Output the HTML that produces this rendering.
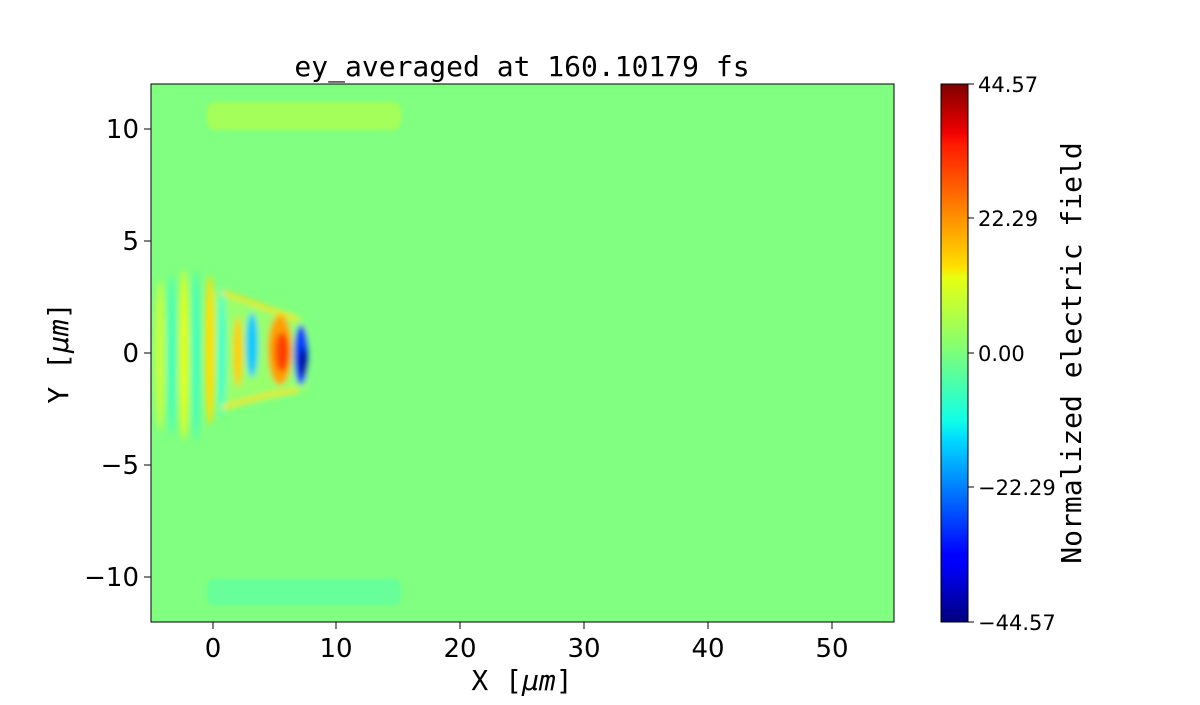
<!DOCTYPE html>
<html><head><style>
body{margin:0;background:#fff;}
svg text{font-family:"DejaVu Sans","Liberation Sans",sans-serif;fill:#000}
.m{font-family:"DejaVu Sans Mono","Liberation Mono",monospace}
</style></head><body>
<svg width="1200" height="700" xmlns="http://www.w3.org/2000/svg">
<defs>
<linearGradient id="jet" x1="0" y1="1" x2="0" y2="0">
<stop offset="0" stop-color="#000080"/><stop offset="0.11" stop-color="#0000ff"/>
<stop offset="0.125" stop-color="#0000ff"/><stop offset="0.34" stop-color="#00dbff"/>
<stop offset="0.375" stop-color="#10ffe7"/><stop offset="0.5" stop-color="#7bff7b"/>
<stop offset="0.64" stop-color="#e7ff10"/><stop offset="0.66" stop-color="#ffe000"/>
<stop offset="0.89" stop-color="#ff1800"/><stop offset="0.91" stop-color="#f00000"/>
<stop offset="1" stop-color="#800000"/></linearGradient>
<filter id="b1"><feGaussianBlur stdDeviation="1.5"/></filter>
<filter id="b2"><feGaussianBlur stdDeviation="3"/></filter>
<clipPath id="c"><rect x="151" y="84" width="743" height="538"/></clipPath>
</defs>
<rect x="151" y="84" width="743" height="538" fill="#80ff80"/>
<g clip-path="url(#c)">
<rect x="207" y="102" width="194" height="28" rx="8" fill="#a4ff5a" filter="url(#b1)"/>
<rect x="207" y="579" width="194" height="26" rx="8" fill="#66ff99" filter="url(#b1)"/>
<g filter="url(#b2)">
<path d="M215 290 L300 315 L308 330 L308 390 L290 395 L220 412 Z" fill="#a8ff60" opacity="0.6"/>
<ellipse cx="160" cy="355" rx="5" ry="75" fill="#c8ff40"/>
<ellipse cx="172" cy="355" rx="4" ry="80" fill="#40ffc0"/>
<ellipse cx="184" cy="355" rx="5" ry="85" fill="#e0ff20"/>
<ellipse cx="196" cy="355" rx="4" ry="85" fill="#40ffc0"/>
<ellipse cx="210" cy="350" rx="5" ry="75" fill="#ffe000"/>
<ellipse cx="222" cy="352" rx="4" ry="65" fill="#40ffd0"/>
<ellipse cx="238" cy="352" rx="5" ry="35" fill="#ffd000"/>
<ellipse cx="252" cy="345" rx="6" ry="32" fill="#00c8ff"/>
<ellipse cx="280" cy="350" rx="12" ry="35" fill="#ffa000"/>
<ellipse cx="282" cy="352" rx="7" ry="20" fill="#ff4000"/>
<ellipse cx="301" cy="355" rx="7" ry="30" fill="#0040ff"/>
<ellipse cx="303" cy="362" rx="4" ry="14" fill="#0000a0"/>
<path d="M222 292 Q260 305 298 320" stroke="#ffe000" stroke-width="4" fill="none"/>
<path d="M222 408 Q260 395 298 390" stroke="#ffe000" stroke-width="4" fill="none"/>
</g>
</g>
<rect x="151" y="84" width="743" height="538" fill="none" stroke="#000" stroke-width="1"/>
<g stroke="#000">
<line x1="213" y1="622" x2="213" y2="629"/><line x1="336" y1="622" x2="336" y2="629"/>
<line x1="460" y1="622" x2="460" y2="629"/><line x1="584" y1="622" x2="584" y2="629"/>
<line x1="708" y1="622" x2="708" y2="629"/><line x1="832" y1="622" x2="832" y2="629"/>
<line x1="144" y1="129" x2="151" y2="129"/><line x1="144" y1="241" x2="151" y2="241"/>
<line x1="144" y1="353" x2="151" y2="353"/><line x1="144" y1="465" x2="151" y2="465"/>
<line x1="144" y1="577" x2="151" y2="577"/>
</g>
<g font-size="26" text-anchor="middle">
<text x="213" y="657">0</text><text x="336" y="657">10</text><text x="460" y="657">20</text>
<text x="584" y="657">30</text><text x="708" y="657">40</text><text x="832" y="657">50</text>
</g>
<g font-size="26" text-anchor="end">
<text x="139" y="138">10</text><text x="139" y="250">5</text><text x="139" y="362">0</text>
<text x="139" y="474">−5</text><text x="139" y="586">−10</text>
</g>
<text class="m" x="522" y="690" font-size="28" text-anchor="middle">X [<tspan font-style="italic">μm</tspan>]</text>
<text class="m" transform="translate(68,353) rotate(-90)" font-size="28" text-anchor="middle">Y [<tspan font-style="italic">μm</tspan>]</text>
<text class="m" x="522" y="76" font-size="28" text-anchor="middle">ey_averaged at 160.10179 fs</text>
<rect x="941" y="84" width="27" height="538" fill="url(#jet)" stroke="#000"/>
<g stroke="#000">
<line x1="968" y1="84" x2="974" y2="84"/><line x1="968" y1="218" x2="974" y2="218"/>
<line x1="968" y1="353" x2="974" y2="353"/><line x1="968" y1="487" x2="974" y2="487"/>
<line x1="968" y1="622" x2="974" y2="622"/>
</g>
<g font-size="21">
<text x="978" y="92">44.57</text><text x="978" y="226">22.29</text><text x="978" y="361">0.00</text>
<text x="978" y="495">−22.29</text><text x="978" y="630">−44.57</text>
</g>
<text class="m" transform="translate(1081,353) rotate(-90)" font-size="28" text-anchor="middle">Normalized electric field</text>
</svg>
</body></html>
